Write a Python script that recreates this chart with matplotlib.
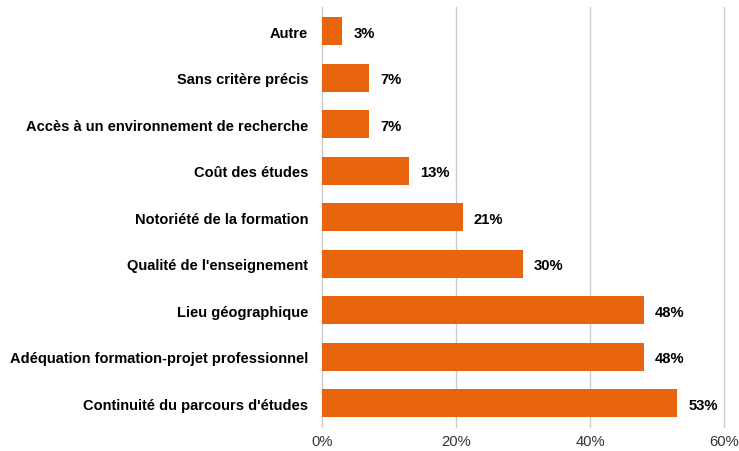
import matplotlib
matplotlib.use("Agg")
import matplotlib.pyplot as plt
from matplotlib.ticker import FuncFormatter

# Data (top to bottom as displayed)
categories = [
    "Autre",
    "Sans critère précis",
    "Accès à un environnement de recherche",
    "Coût des études",
    "Notoriété de la formation",
    "Qualité de l'enseignement",
    "Lieu géographique",
    "Adéquation formation-projet professionnel",
    "Continuité du parcours d'études",
]
values = [3, 7, 7, 13, 21, 30, 48, 48, 53]
xticks = [0, 20, 40, 60]

plt.rcParams["font.family"] = ["Liberation Sans", "DejaVu Sans"]

fig = plt.figure(figsize=(7.39, 4.52), dpi=100)
ax = fig.add_axes([0.4357, 0.052, 0.5440, 0.930])

positions = list(range(len(categories)))[::-1]
ax.barh(positions, values, height=0.6, color="#E8650E", zorder=3)

for pos, v in zip(positions, values):
    ax.annotate(f"{v}%", xy=(v, pos), xytext=(8, -1), textcoords="offset points",
                va="center", ha="left", fontsize=10.6, fontweight="bold",
                color="black")

ax.set_yticks(positions)
ax.set_yticklabels(categories, fontsize=10.5, fontweight="bold", color="black")
ax.set_ylim(-0.52, 8.52)
ax.set_xlim(0, 60)
ax.set_xticks(xticks)
ax.xaxis.set_major_formatter(FuncFormatter(lambda x, p: f"{x:.0f}%"))
ax.tick_params(axis="x", labelsize=10.6, colors="#333333", length=0, pad=5)
ax.tick_params(axis="y", length=0, pad=10)
for x in xticks:
    ax.axvline(x, color="#cccccc", linewidth=1, zorder=0, clip_on=False)
for s in ax.spines.values():
    s.set_visible(False)

fig.savefig("out.png", dpi=100)
